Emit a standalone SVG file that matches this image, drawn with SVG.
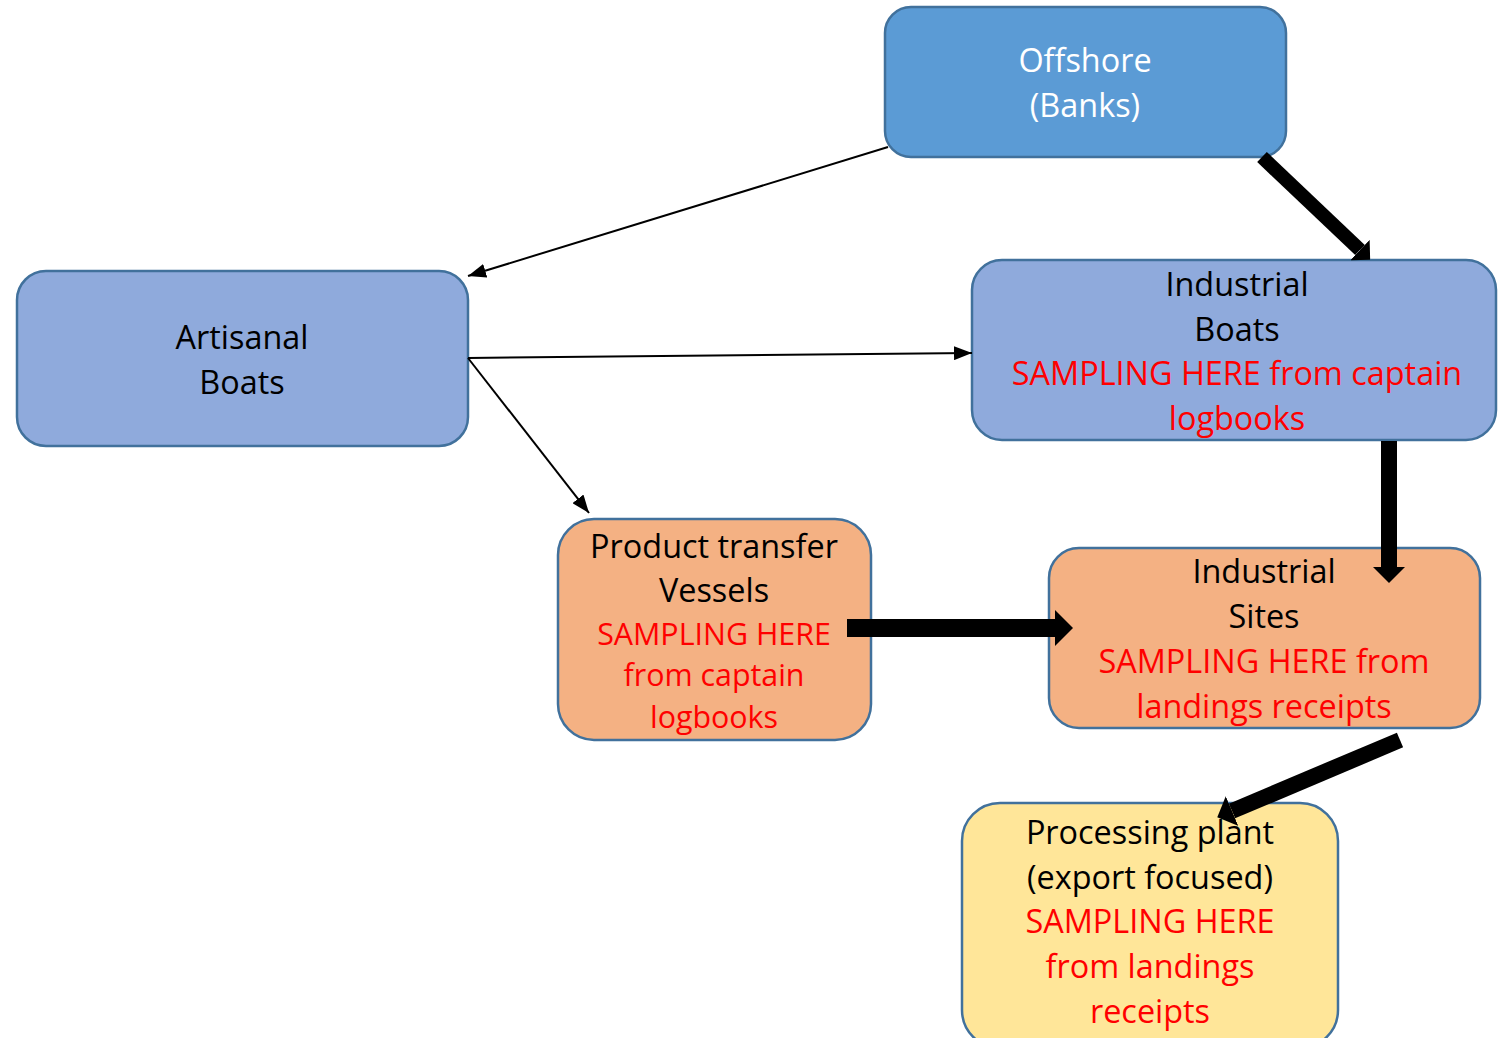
<svg xmlns="http://www.w3.org/2000/svg" width="1498" height="1038" viewBox="0 0 1498 1038">
<defs>
<style>
.box{stroke:#41719C;stroke-width:2.5}
.blue{fill:#5B9BD5}
.lblue{fill:#8FAADC}
.orange{fill:#F4B183}
.yellow{fill:#FFE699}
text{font-family:"Open Sans","Liberation Sans",sans-serif;font-size:32.4px;text-anchor:middle}
.k{fill:#000}
.w{fill:#fff}
.r{fill:#FF0000}
.sm{font-size:30.4px}
.thin{stroke:#000;stroke-width:2;fill:none}
.thick{stroke:#000;fill:none}
</style>
<marker id="ah" markerUnits="userSpaceOnUse" markerWidth="18" markerHeight="14" viewBox="0 0 18 14" refX="18" refY="7" orient="auto">
<path d="M0,0 L18,7 L0,14 z" fill="#000"/>
</marker>
<marker id="bh" markerUnits="strokeWidth" markerWidth="1" markerHeight="2" viewBox="0 0 10 20" refX="0" refY="10" orient="auto">
<path d="M0,0 L10,10 L0,20 z" fill="#000"/>
</marker>
</defs>
<rect width="1498" height="1038" fill="#fff"/>
<g id="offshore">
<rect class="box blue" x="885" y="7" width="401" height="150" rx="26"/>
<text class="w" x="1085" y="72">Offshore</text>
<text class="w" x="1085" y="117">(Banks)</text>
</g>
<g id="artisanal">
<rect class="box lblue" x="17" y="271" width="451" height="175" rx="29"/>
<text class="k" x="242" y="349">Artisanal</text>
<text class="k" x="242" y="394">Boats</text>
</g>
<g id="industrial-boats">
<rect class="box lblue" x="972" y="260" width="524" height="180" rx="30"/>
<text class="k" x="1237" y="296">Industrial</text>
<text class="k" x="1237" y="341">Boats</text>
<text class="r" x="1237" y="385">SAMPLING HERE from captain</text>
<text class="r" x="1237" y="430">logbooks</text>
</g>
<g id="product-transfer">
<rect class="box orange" x="558" y="519" width="313" height="221" rx="36"/>
<text class="k" x="714" y="558">Product transfer</text>
<text class="k" x="714" y="602">Vessels</text>
<text class="r sm" x="714" y="645">SAMPLING HERE</text>
<text class="r sm" x="714" y="686">from captain</text>
<text class="r sm" x="714" y="728">logbooks</text>
</g>
<g id="industrial-sites">
<rect class="box orange" x="1049" y="548" width="431" height="180" rx="30"/>
<text class="k" x="1264" y="583">Industrial</text>
<text class="k" x="1264" y="628">Sites</text>
<text class="r" x="1264" y="673">SAMPLING HERE from</text>
<text class="r" x="1264" y="718">landings receipts</text>
</g>
<g id="processing-plant">
<rect class="box yellow" x="962" y="803" width="376" height="245" rx="38"/>
<text class="k" x="1150" y="844">Processing plant</text>
<text class="k" x="1150" y="889">(export focused)</text>
<text class="r" x="1150" y="933">SAMPLING HERE</text>
<text class="r" x="1150" y="978">from landings</text>
<text class="r" x="1150" y="1023">receipts</text>
</g>
<g id="connectors">
<line class="thin" x1="888" y1="147" x2="468" y2="276" marker-end="url(#ah)"/>
<line class="thin" x1="468" y1="358" x2="972" y2="353" marker-end="url(#ah)"/>
<line class="thin" x1="468" y1="358" x2="589" y2="513" marker-end="url(#ah)"/>
<line class="thick" stroke-width="14" x1="1262" y1="157" x2="1360" y2="250" marker-end="url(#bh)"/>
<line class="thick" stroke-width="16" x1="1389" y1="441" x2="1389" y2="567" marker-end="url(#bh)"/>
<line class="thick" stroke-width="18" x1="847" y1="628" x2="1055" y2="628" marker-end="url(#bh)"/>
<line class="thick" stroke-width="16" x1="1400" y1="740" x2="1232" y2="811" marker-end="url(#bh)"/>
</g>
</svg>
